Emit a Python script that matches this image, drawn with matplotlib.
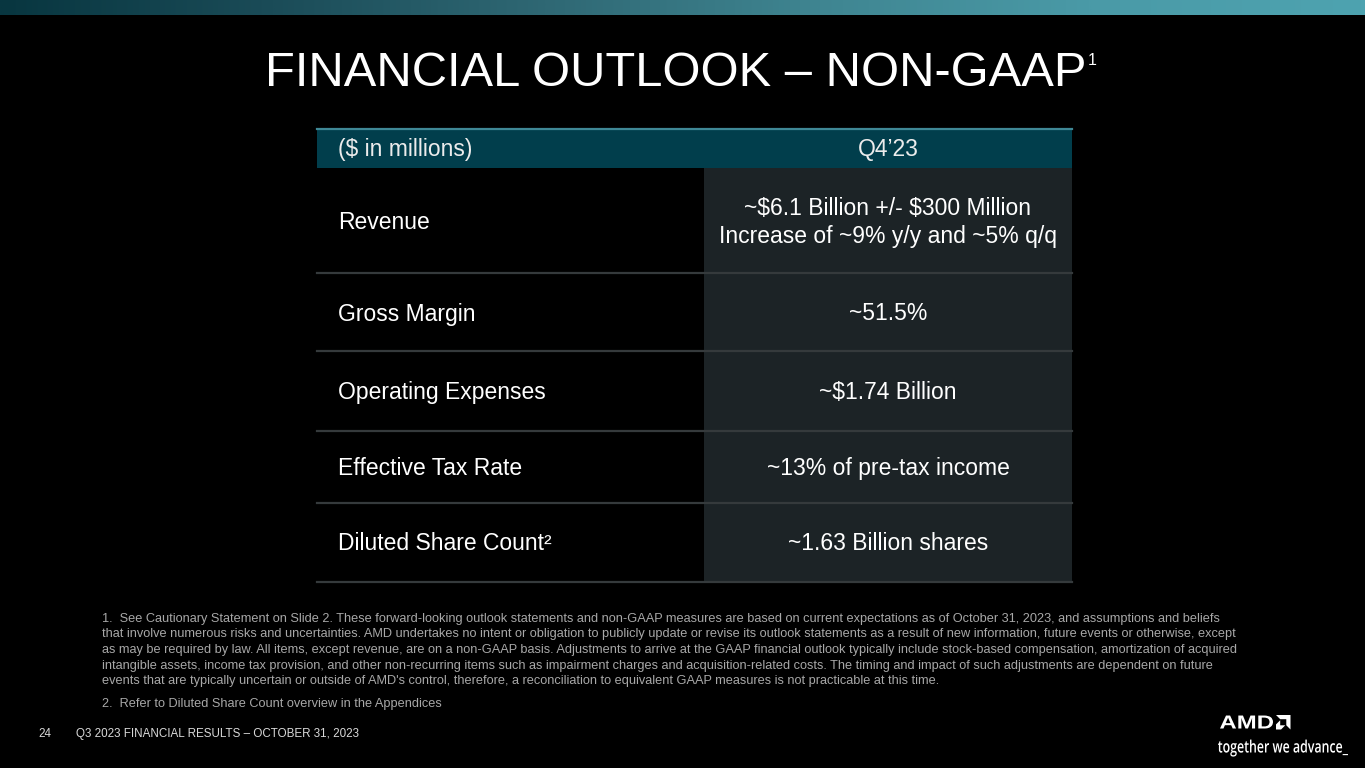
import matplotlib
matplotlib.use("Agg")
import matplotlib.pyplot as plt
import numpy as np
from matplotlib.colors import LinearSegmentedColormap
from matplotlib.patches import Rectangle, Polygon, PathPatch
from matplotlib.textpath import TextPath
from matplotlib.font_manager import FontProperties
from matplotlib.transforms import Affine2D

plt.rcParams["text.parse_math"] = False

# ---------------- data ----------------
title = "FINANCIAL OUTLOOK \u2013 NON-GAAP"
title_note = "1"
header_left = "($ in millions)"
header_right = "Q4\u201923"
metrics = ["Revenue", "Gross Margin", "Operating Expenses",
           "Effective Tax Rate", "Diluted Share Count\u00b2"]
outlook = ["~$6.1 Billion +/- $300 Million\nIncrease of ~9% y/y and ~5% q/q",
           "~51.5%", "~$1.74 Billion", "~13% of pre-tax income",
           "~1.63 Billion shares"]
footnote1 = [
    "1.  See Cautionary Statement on Slide 2. These forward-looking outlook statements and non-GAAP measures are based on current expectations as of October 31, 2023, and assumptions and beliefs",
    "that involve numerous risks and uncertainties. AMD undertakes no intent or obligation to publicly update or revise its outlook statements as a result of new information, future events or otherwise, except",
    "as may be required by law. All items, except revenue, are on a non-GAAP basis. Adjustments to arrive at the GAAP financial outlook typically include stock-based compensation, amortization of acquired",
    "intangible assets, income tax provision, and other non-recurring items such as impairment charges and acquisition-related costs. The timing and impact of such adjustments are dependent on future",
    "events that are typically uncertain or outside of AMD's control, therefore, a reconciliation to equivalent GAAP measures is not practicable at this time.",
]
footnote2 = "2.  Refer to Diluted Share Count overview in the Appendices"
page_no = "24"
footer = "Q3 2023 FINANCIAL RESULTS \u2013 OCTOBER 31, 2023"
tagline = "together we advance_"

# ---------------- layout (pixel coordinates) ----------------
W, H = 1365, 768
FONT = "Liberation Sans"
fig = plt.figure(figsize=(W / 100, H / 100), dpi=100, facecolor="black")
ax = fig.add_axes([0, 0, 1, 1])
ax.set_xlim(0, W)
ax.set_ylim(H, 0)
ax.axis("off")
ax.set_facecolor("black")

# top gradient bar
cmap = LinearSegmentedColormap.from_list(
    "bar", ["#083640", "#1b4c58", "#2f6874", "#3f8591", "#4a9aa7", "#4ea3b0"])
grad = np.linspace(0, 1, 512).reshape(1, -1)
ax.imshow(grad, cmap=cmap, extent=(0, W, 15.5, 0), aspect="auto", zorder=1)

# title
t = ax.text(676, 73, title, ha="center", va="center", color="white",
            fontsize=35.2, family=FONT, zorder=5)
ax.annotate(title_note, xy=(1, 1), xycoords=t, xytext=(1.0, -1.5),
            textcoords="offset points", ha="left", va="top",
            color="white", fontsize=11.5, family=FONT)

# table geometry
x0, xm, x1 = 317, 704, 1072
hdr_top, hdr_bot = 128, 167.5
row_edges = [167.5, 273, 351, 430.5, 502.5, 581.5]

# header
ax.add_patch(Rectangle((x0, hdr_top), x1 - x0, hdr_bot - hdr_top,
                       facecolor="#013e4c", edgecolor="none", zorder=2))
ax.plot([x0, x1], [hdr_top + 0.8, hdr_top + 0.8], color="#3f8896", lw=1.6, zorder=3)
ax.text(338, (hdr_top + hdr_bot) / 2 + 2, header_left, ha="left", va="center",
        color="#ececec", fontsize=16.5, family=FONT, zorder=4)
ax.text((xm + x1) / 2, (hdr_top + hdr_bot) / 2 + 2, header_right, ha="center",
        va="center", color="#ececec", fontsize=16.5, family=FONT, zorder=4)

# right column background
ax.add_patch(Rectangle((xm, row_edges[0]), x1 - xm, row_edges[-1] - row_edges[0],
                       facecolor="#1c2326", edgecolor="none", zorder=2))

# rows
for i, (m, v) in enumerate(zip(metrics, outlook)):
    ytop, ybot = row_edges[i], row_edges[i + 1]
    yc = (ytop + ybot) / 2
    ax.text(338, yc + 2, m, ha="left", va="center", color="white",
            fontsize=16.5, family=FONT, zorder=4)
    ax.text((xm + x1) / 2, yc + 2, v, ha="center", va="center", color="white",
            fontsize=16.5, family=FONT, linespacing=1.25, zorder=4)
    ax.plot([x0, x1], [ybot, ybot], color="#353a3c", lw=1.6, zorder=3)

# footnotes
fn_y = [619, 634.5, 650, 665.5, 681]
for y, line in zip(fn_y, footnote1):
    ax.text(102, y, line, ha="left", va="center", color="#a8a8a8",
            fontsize=9.2, family=FONT, zorder=4)
ax.text(102, 703.5, footnote2, ha="left", va="center", color="#a8a8a8",
        fontsize=9.2, family=FONT, zorder=4)

# footer
ax.text(38, 734, page_no, ha="left", va="center", color="#d8d8d8",
        fontsize=8.4, family=FONT)
ax.text(76, 734, footer, ha="left", va="center", color="#d8d8d8",
        fontsize=8.4, family=FONT)


def stretched_text(s, prop, left, bottom, width, cap):
    tp = TextPath((0, 0), s, size=1, prop=prop)
    ext = tp.get_extents()
    sx = width / ext.width
    tr = Affine2D().translate(-ext.x0, 0).scale(sx, -cap).translate(left, bottom)
    ax.add_patch(PathPatch(tr.transform_path(tp), facecolor="white",
                           edgecolor="none", zorder=5))


# AMD logo word mark
stretched_text("AMD", FontProperties(family=FONT, weight="bold"),
               1220, 728.5, 53, 13.5 / 0.716)

# AMD arrow
ax0, ay0, s = 1276, 715, 14.5
outer = [(0, 0), (100, 0), (100, 100), (71, 71), (71, 29), (29, 29)]
inner = [(29, 36), (0, 65), (0, 100), (35, 100), (64, 71), (29, 71)]
for poly in (outer, inner):
    pts = [(ax0 + px * s / 100, ay0 + py * s / 100) for px, py in poly]
    ax.add_patch(Polygon(pts, closed=True, facecolor="white", edgecolor="none", zorder=5))

# tagline
stretched_text(tagline, FontProperties(family="Open Sans", weight="semibold"),
               1218, 752.5, 130, 17.0)

fig.savefig("out.png", dpi=100, facecolor="black")
